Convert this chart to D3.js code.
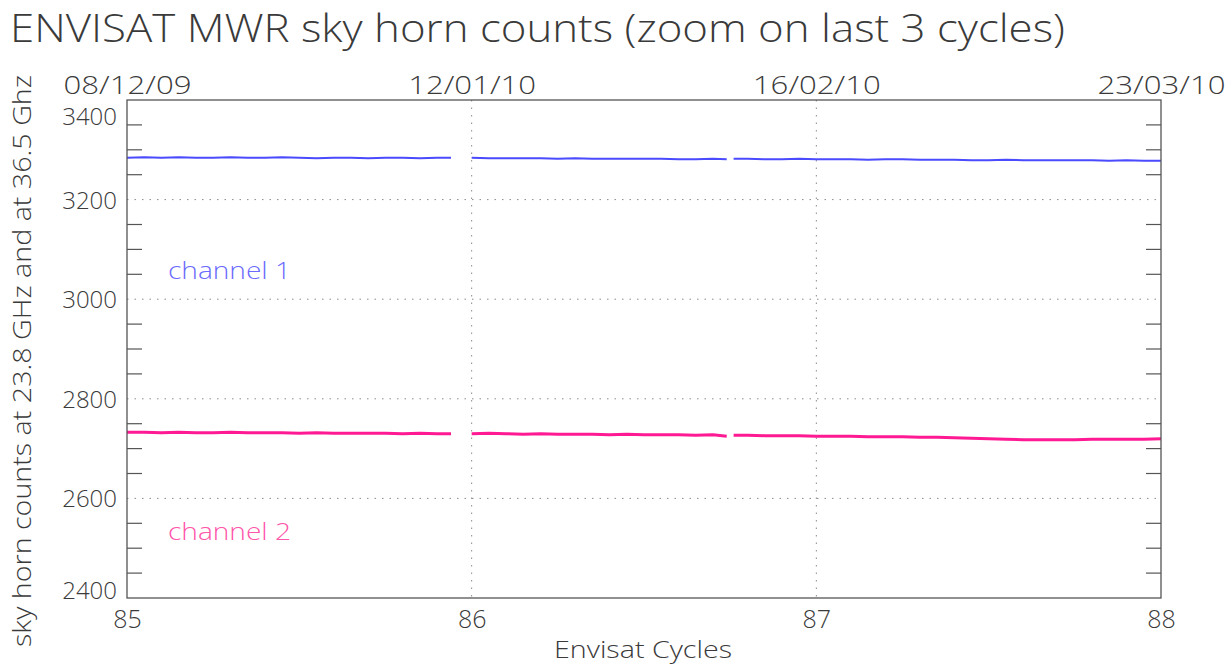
<!DOCTYPE html>
<html><head><meta charset="utf-8">
<script src="https://cdn.jsdelivr.net/npm/d3@7"></script>
<style>
html,body{margin:0;padding:0;background:#fff;}
svg text{font-family:"Open Sans","Lato","DejaVu Sans",sans-serif;font-weight:300;fill:#3a3a3a;}
</style></head>
<body>
<svg id="chart" width="1227" height="668"></svg>
<script>
// ---- data ----
const title = "ENVISAT MWR sky horn counts (zoom on last 3 cycles)";
const yTitle = "sky horn counts at 23.8 GHz and at 36.5 Ghz";
const xTitle = "Envisat Cycles";
const xTicks = [85, 86, 87, 88];
const topDates = ["08/12/09", "12/01/10", "16/02/10", "23/03/10"];
const yTicks = [2400, 2600, 2800, 3000, 3200, 3400];
const yMinor = [2450, 2500, 2550, 2650, 2700, 2750, 2850, 2900, 2950, 3050, 3100, 3150, 3250, 3300, 3350];
const seriesNames = ["channel 1", "channel 2"];

const cycles = [
  85.00, 85.05, 85.10, 85.15, 85.20, 85.25, 85.30, 85.35, 85.40, 85.45,
  85.50, 85.55, 85.60, 85.65, 85.70, 85.75, 85.80, 85.85, 85.90, 85.94,
  85.97,
  86.00, 86.05, 86.10, 86.15, 86.20, 86.25, 86.30, 86.35, 86.40, 86.45,
  86.50, 86.55, 86.60, 86.65, 86.70, 86.74,
  86.75,
  86.76, 86.80, 86.85, 86.90, 86.95, 87.00, 87.05, 87.10, 87.15, 87.20,
  87.25, 87.30, 87.35, 87.40, 87.45, 87.50, 87.55, 87.60, 87.65, 87.70,
  87.75, 87.80, 87.85, 87.90, 87.95, 88.00
];
const channel1 = [
  3284, 3285, 3284, 3285, 3284, 3284, 3285, 3284, 3284, 3285,
  3284, 3283, 3284, 3284, 3283, 3284, 3284, 3283, 3284, 3284,
  null,
  3284, 3283, 3283, 3283, 3283, 3282, 3283, 3282, 3282, 3282,
  3282, 3282, 3281, 3281, 3282, 3281,
  null,
  3282, 3282, 3281, 3281, 3282, 3281, 3281, 3281, 3280, 3281,
  3281, 3280, 3280, 3280, 3279, 3279, 3280, 3279, 3279, 3279,
  3279, 3279, 3278, 3279, 3278, 3278
];
const channel2 = [
  2733, 2733, 2732, 2733, 2732, 2732, 2733, 2732, 2732, 2732,
  2731, 2732, 2731, 2731, 2731, 2731, 2730, 2731, 2730, 2730,
  null,
  2730, 2731, 2730, 2729, 2730, 2729, 2729, 2729, 2728, 2729,
  2728, 2728, 2728, 2727, 2728, 2725,
  null,
  2727, 2727, 2726, 2726, 2726, 2725, 2725, 2725, 2724, 2724,
  2724, 2723, 2723, 2722, 2721, 2720, 2719, 2718, 2718, 2718,
  2718, 2719, 2719, 2719, 2719, 2720
];
const colors = ["#4a4aff", "#ff1a94"];
const labelColors = ["#6b6bff", "#ff55aa"];

// ---- layout ----
const svg = d3.select("#chart");
const m = {left: 127, right: 1161, top: 100, bottom: 598};
const x = d3.scaleLinear().domain([85, 88]).range([m.left, m.right]);
const y = d3.scaleLinear().domain([2400, 3400]).range([m.bottom, m.top]);

// grid (dotted)
const grid = svg.append("g").attr("stroke", "#8a8a8a").attr("stroke-width", 1).attr("stroke-dasharray", "1.5,6");
grid.selectAll("line.h").data(yTicks.filter(v => v > 2400 && v < 3400)).join("line")
  .attr("x1", m.left).attr("x2", m.right).attr("y1", d => y(d)).attr("y2", d => y(d));
grid.selectAll("line.v").data(xTicks.filter(v => v > 85 && v < 88)).join("line")
  .attr("class", "v")
  .attr("y1", m.top).attr("y2", m.bottom).attr("x1", d => x(d)).attr("x2", d => x(d));

// minor ticks left and right (inward)
const tk = svg.append("g").attr("stroke", "#555").attr("stroke-width", 1.2);
tk.selectAll("line.l").data(yMinor).join("line").attr("class", "l")
  .attr("x1", m.left).attr("x2", m.left + 15).attr("y1", d => y(d)).attr("y2", d => y(d));
tk.selectAll("line.r").data(yMinor).join("line").attr("class", "r")
  .attr("x1", m.right).attr("x2", m.right - 15).attr("y1", d => y(d)).attr("y2", d => y(d));

// series
const line = d3.line().defined(d => d[1] !== null).x(d => x(d[0])).y(d => y(d[1]));
[channel1, channel2].forEach((vals, i) => {
  const pts = cycles.map((c, k) => [c, vals[k]]);
  svg.append("path").datum(pts)
    .attr("fill", "none").attr("stroke", colors[i])
    .attr("stroke-width", i === 0 ? 2 : 3)
    .attr("stroke-linejoin", "round")
    .attr("d", line);
});

// frame
svg.append("rect").attr("x", m.left).attr("y", m.top)
  .attr("width", m.right - m.left).attr("height", m.bottom - m.top)
  .attr("fill", "none").attr("stroke", "#555").attr("stroke-width", 1.3);

// y axis labels
const yAx = svg.append("g").attr("transform", `translate(${m.left},0)`)
  .call(d3.axisLeft(y).tickValues(yTicks).tickSize(0).tickPadding(10).tickFormat(d3.format("d")));
yAx.select(".domain").remove();
yAx.selectAll("text").attr("font-size", 24).attr("font-family", null)
  .attr("dy", d => d === 3400 ? "1.0em" : d === 2400 ? "0.0em" : "0.35em");

// bottom axis labels
const xAx = svg.append("g").attr("transform", `translate(0,${m.bottom})`)
  .call(d3.axisBottom(x).tickValues(xTicks).tickSize(0).tickPadding(12).tickFormat(d3.format("d")));
xAx.select(".domain").remove();
xAx.selectAll("text").attr("font-size", 25).attr("font-family", null);

// top axis date labels
const tAx = svg.append("g").attr("transform", `translate(0,${m.top})`)
  .call(d3.axisTop(x).tickValues(xTicks).tickSize(0).tickPadding(6).tickFormat((d, i) => topDates[i]));
tAx.select(".domain").remove();
tAx.selectAll("text").attr("font-size", 25).attr("font-family", null).attr("textLength", 128).attr("lengthAdjust", "spacingAndGlyphs");

// titles
svg.append("text").attr("x", 10).attr("y", 42).attr("font-size", 38)
  .attr("textLength", 1055).attr("lengthAdjust", "spacingAndGlyphs").text(title);
svg.append("text").attr("x", 643).attr("y", 658).attr("text-anchor", "middle")
  .attr("font-size", 24).attr("textLength", 178).attr("lengthAdjust", "spacingAndGlyphs").text(xTitle);
svg.append("text").attr("transform", "translate(31,361) rotate(-90)").attr("text-anchor", "middle")
  .attr("font-size", 25).attr("textLength", 572).attr("lengthAdjust", "spacingAndGlyphs").text(yTitle);

// series labels
const labelY = [279, 540];
seriesNames.forEach((n, i) => {
  svg.append("text").attr("x", 168).attr("y", labelY[i]).attr("font-size", 23)
    .attr("textLength", 123).attr("lengthAdjust", "spacingAndGlyphs")
    .style("fill", labelColors[i]).text(n);
});
</script>
</body></html>
